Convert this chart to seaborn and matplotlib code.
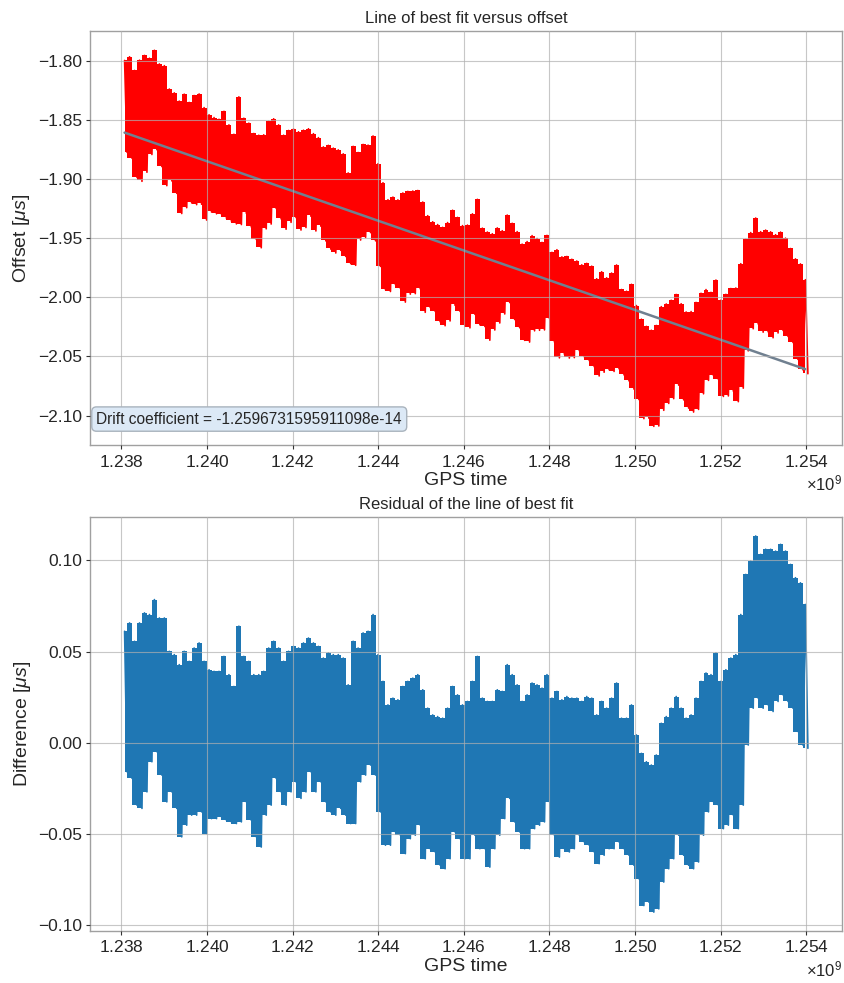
import numpy as np
import seaborn as sns
import matplotlib.pyplot as plt
from matplotlib.ticker import MultipleLocator

# GPS time span of the record (seconds)
gps_start = 1.238077e9
gps_end = 1.253977e9

# residual envelope (upper / lower), microseconds
res_hi = [0.0611, 0.0657, 0.0556, 0.0657, 0.0712, 0.0703, 0.0785, 0.0684, 0.0684, 0.0501,
          0.0483, 0.0428, 0.0501, 0.0446, 0.0519, 0.0547, 0.0446, 0.0400, 0.0391, 0.0391,
          0.0473, 0.0373, 0.0308,
          0.0639, 0.0473, 0.0446, 0.0373, 0.0373, 0.0391, 0.0519, 0.0556, 0.0519, 0.0446,
          0.0501, 0.0528, 0.0519, 0.0547, 0.0574, 0.0547, 0.0528, 0.0464, 0.0492, 0.0483,
          0.0483, 0.0464, 0.0317,
          0.0556, 0.0519, 0.0602, 0.0611, 0.0703, 0.0483, 0.0336, 0.0207, 0.0244, 0.0235,
          0.0308, 0.0336, 0.0354, 0.0373, 0.0290, 0.0189, 0.0152, 0.0143, 0.0134, 0.0189,
          0.0308, 0.0262, 0.0207,
          0.0226, 0.0336, 0.0473, 0.0244, 0.0226, 0.0226, 0.0290, 0.0281, 0.0428, 0.0373,
          0.0317, 0.0226, 0.0262, 0.0327, 0.0317, 0.0299, 0.0373, 0.0244, 0.0281, 0.0235,
          0.0253, 0.0244, 0.0244,
          0.0226, 0.0253, 0.0244, 0.0152, 0.0226, 0.0189, 0.0244, 0.0327, 0.0134, 0.0134,
          0.0207, 0.0042, -0.0059, -0.0105, -0.0123, -0.0068, 0.0106, 0.0143, 0.0189, 0.0253,
          0.0189, 0.0134, 0.0152, 0.0244,
          0.0336, 0.0382, 0.0373, 0.0492, 0.0336, 0.0400, 0.0464, 0.0483, 0.0703, 0.0923,
          0.0996, 0.1134, 0.1033, 0.1061, 0.1061, 0.1051, 0.1088, 0.1051, 0.0978, 0.0905,
          0.0877, 0.0758]
res_lo = [-0.0160, -0.0196, -0.0343, -0.0361, -0.0270, -0.0105, -0.0050, -0.0178, -0.0325, -0.0270,
          -0.0361, -0.0517, -0.0453, -0.0398, -0.0398, -0.0380, -0.0499, -0.0417, -0.0417, -0.0407,
          -0.0426, -0.0435, -0.0444,
          -0.0435, -0.0325, -0.0426, -0.0517, -0.0573, -0.0398, -0.0343, -0.0196, -0.0270, -0.0343,
          -0.0270, -0.0215, -0.0306, -0.0270, -0.0160, -0.0270, -0.0215, -0.0325, -0.0380, -0.0398,
          -0.0361, -0.0398, -0.0444,
          -0.0444, -0.0215, -0.0178, -0.0123, -0.0178, -0.0380, -0.0563, -0.0563, -0.0490, -0.0508,
          -0.0609, -0.0527, -0.0508, -0.0453, -0.0637, -0.0582, -0.0600, -0.0673, -0.0692, -0.0637,
          -0.0490, -0.0527, -0.0637,
          -0.0637, -0.0508, -0.0582, -0.0582, -0.0683, -0.0582, -0.0508, -0.0417, -0.0306, -0.0435,
          -0.0490, -0.0582, -0.0582, -0.0472, -0.0453, -0.0435, -0.0325, -0.0508, -0.0628, -0.0582,
          -0.0600, -0.0582, -0.0508,
          -0.0545, -0.0563, -0.0600, -0.0664, -0.0618, -0.0582, -0.0582, -0.0545, -0.0582, -0.0618,
          -0.0673, -0.0747, -0.0894, -0.0875, -0.0930, -0.0912, -0.0765, -0.0692, -0.0637, -0.0508,
          -0.0618, -0.0673, -0.0692, -0.0655,
          -0.0508, -0.0380, -0.0325, -0.0343, -0.0472, -0.0453, -0.0398, -0.0472, -0.0343, -0.0013,
          0.0189, 0.0244, 0.0189, 0.0207, 0.0171, 0.0226, 0.0262, 0.0226, 0.0189, 0.0061,
          -0.0013, -0.0031]

# linear fit: value at gps_start (microseconds) and drift coefficient (s/s)
fit_start = -1.8605
drift_coef = -1.2596731595911098e-14

sns.set_theme(style="whitegrid")
plt.rcParams["font.family"] = ["Liberation Sans", "DejaVu Sans"]
plt.rcParams["mathtext.fontset"] = "custom"
plt.rcParams["mathtext.rm"] = "Liberation Sans"
plt.rcParams["mathtext.it"] = "Liberation Sans:italic"

t = np.linspace(gps_start, gps_end, len(res_hi))
dt = t[1] - t[0]
hi = np.array(res_hi)
lo = np.array(res_lo)
fit = fit_start + drift_coef * 1e6 * (t - gps_start)

# alternate upper/lower samples so the line looks like the dense raw trace
zz_t = np.column_stack([t, t + dt / 2]).ravel()
zz_res = np.column_stack([hi, lo]).ravel()
zz_fit = fit_start + drift_coef * 1e6 * (zz_t - gps_start)
zz_off = zz_res + zz_fit

fig, (ax1, ax2) = plt.subplots(2, 1, figsize=(8.45, 9.83), dpi=100)
fig.subplots_adjust(left=0.107, right=0.9965, top=0.968, bottom=0.053, hspace=0.174)

# top panel: offset and line of best fit
ax1.fill_between(t, lo + fit, hi + fit, color="red", lw=0, step="mid")
sns.lineplot(x=zz_t, y=zz_off, ax=ax1, color="red", lw=1.2, estimator=None, sort=False)
sns.lineplot(x=t, y=fit, ax=ax1, color="slategray", lw=1.8, estimator=None)
ax1.set_title("Line of best fit versus offset", fontsize=12)
ax1.set_xlabel("GPS time", fontsize=14, labelpad=2)
ax1.set_ylabel(r"Offset [$\mu s$]", fontsize=14)
ax1.text(0.008, 0.045, f"Drift coefficient = {drift_coef}", transform=ax1.transAxes,
         fontsize=11.2, va="bottom", ha="left",
         bbox=dict(boxstyle="round", facecolor="#dce9f6", edgecolor="#a9b3bd"))
ax1.yaxis.set_major_locator(MultipleLocator(0.05))

# bottom panel: residual
ax2.fill_between(t, lo, hi, color="tab:blue", lw=0, step="mid")
sns.lineplot(x=zz_t, y=zz_res, ax=ax2, color="tab:blue", lw=1.2, estimator=None, sort=False)
ax2.set_title("Residual of the line of best fit", fontsize=12)
ax2.set_xlabel("GPS time", fontsize=14, labelpad=2)
ax2.set_ylabel(r"Difference [$\mu s$]", fontsize=14)
ax2.yaxis.set_major_locator(MultipleLocator(0.05))

for ax in (ax1, ax2):
    ax.xaxis.set_major_locator(MultipleLocator(2e6))
    ax.ticklabel_format(axis="x", style="sci", scilimits=(0, 0), useOffset=False, useMathText=True)
    ax.xaxis.get_offset_text().set_fontsize(12)
    ax.tick_params(labelsize=12.5, length=3, width=0.8, color="#333333", direction="out",
                   bottom=True, left=True, pad=3)
    ax.grid(True, color="#b0b0b0", lw=0.8, alpha=0.7)
    ax.set_axisbelow(False)
    for s in ax.spines.values():
        s.set_color("#a0a0a0")
        s.set_linewidth(1.0)

fig.savefig("out.png", dpi=100)
